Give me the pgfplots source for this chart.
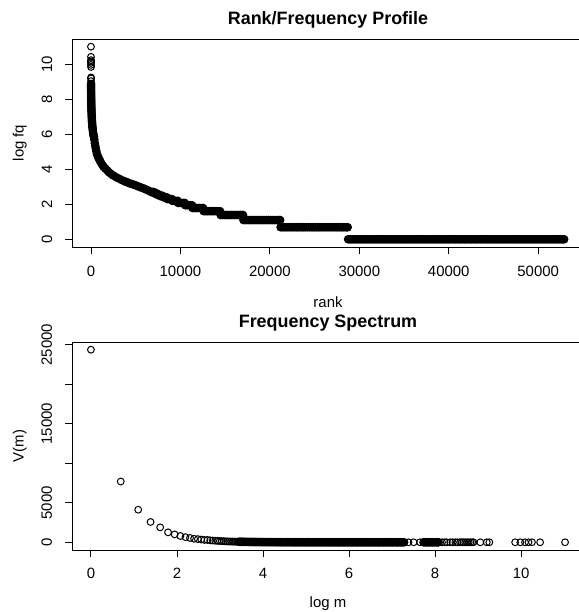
\documentclass[border=0pt]{standalone}
\usepackage{fontspec}
\setmainfont{Liberation Sans}
\usepackage{pgfplots}
\pgfplotsset{compat=1.18}

\pgfplotsset{
  rplot/.style={
    scale only axis, width=512bp, height=208bp, anchor=south west,
    axis line style={line width=0.9bp},
    tick align=outside, major tick length=7bp,
    xtick pos=bottom, ytick pos=left,
    tick style={line width=0.9bp, black},
    scaled ticks=false,
    every tick label/.append style={font=\fontsize{15}{15}\selectfont},
    yticklabel style={rotate=90, anchor=base},
    xticklabel style={anchor=base},
    /pgf/number format/1000 sep={},
    /pgf/number format/assume math mode=true,
    title style={font=\bfseries\fontsize{18}{18}\selectfont,
      at={(axis description cs:0.5,1)}, anchor=base, yshift=9bp},
    label style={font=\fontsize{15}{15}\selectfont},
  },
  every axis x label/.style={at={(axis description cs:0.5,0)}, anchor=base},
  every axis y label/.style={at={(axis description cs:-0.0945,0.5)}, rotate=90, anchor=base},
  dense/.style={only marks, mark=*, mark size=3.8bp,
    mark options={line width=1bp, draw=black, fill=black}},
  open/.style={only marks, mark=o, mark size=3.4bp,
    mark options={line width=1bp, draw=black}},
}

\begin{document}
\begin{tikzpicture}
\useasboundingbox (0,0) rectangle (579bp,612bp);

% rank / frequency profile
\begin{axis}[rplot, at={(72bp,365bp)},
    xmin=-2120, xmax=55120, ymin=-0.44, ymax=11.46,
    xtick={0,10000,...,50000}, ytick={0,2,...,10},
    xticklabel shift=22.7bp, yticklabel shift=13bp,
    title={Rank/Frequency Profile},
    xlabel={rank}, ylabel={log fq},
    xlabel style={yshift=-61bp}]
\addplot[dense] coordinates {
 (11,8.89) (12,8.80) (13,8.70) (14,8.60) (16,8.50) (18,8.40) (20,8.30) (22,8.20)
 (25,8.10) (28,8.00) (32,7.90) (36,7.80) (40,7.70) (45,7.60) (50,7.50) (56,7.40)
 (63,7.30) (70,7.20) (78,7.10) (87,7.00) (97,6.90) (108,6.80) (120,6.70) (135,6.60)
 (150,6.50) (170,6.40) (190,6.30) (215,6.20) (240,6.10) (270,6.00) (300,5.93) (340,5.86)
 (380,5.70) (430,5.50) (480,5.35) (540,5.20) (600,5.05) (660,4.90) (730,4.80) (810,4.70)
 (900,4.60) (1000,4.50) (1120,4.38) (1270,4.25) (1420,4.15) (1600,4.05) (1800,3.95) (2000,3.84)
 (2250,3.74) (2500,3.65) (2800,3.56) (3100,3.48) (3400,3.40) (3750,3.32) (3925,3.29)
 (4100,3.25) (4300,3.21) (4500,3.17) (4710,3.14) (4920,3.10) (5135,3.06) (5350,3.01)
 (5575,2.97) (5800,2.93) (6025,2.88) (6250,2.83) (6475,2.77)
 (6700,2.71) (6850,2.71) (7000,2.71)
 (7050,2.64) (7200,2.64) (7300,2.64)
 (7350,2.56) (7500,2.56) (7650,2.56)
 (7700,2.48) (7900,2.48) (8050,2.48)
 (8100,2.40) (8300,2.40) (8500,2.40)
 (8550,2.30) (8750,2.30) (8950,2.30) (9050,2.30)
 (9100,2.20) (9300,2.20) (9500,2.20) (9700,2.20)
 (9750,2.08) (9950,2.08) (10150,2.08) (10350,2.08) (10500,2.08)
 (10550,1.95) (10750,1.95) (10950,1.95) (11150,1.95) (11300,1.95)
 (11350,1.79) (11550,1.79) (11750,1.79) (11950,1.79) (12150,1.79) (12350,1.79) (12540,1.79)
 (12600,1.61) (12800,1.61) (13000,1.61) (13200,1.61) (13400,1.61) (13600,1.61)
 (13800,1.61) (14000,1.61) (14200,1.61) (14430,1.61)
 (14500,1.39) (14700,1.39) (14900,1.39) (15100,1.39) (15300,1.39) (15500,1.39)
 (15700,1.39) (15900,1.39) (16100,1.39) (16300,1.39) (16500,1.39) (16700,1.39)
 (16900,1.39) (17000,1.39)
 (17050,1.10) (17250,1.10) (17450,1.10) (17650,1.10) (17850,1.10) (18050,1.10)
 (18250,1.10) (18450,1.10) (18650,1.10) (18850,1.10) (19050,1.10) (19250,1.10)
 (19450,1.10) (19650,1.10) (19850,1.10) (20050,1.10) (20250,1.10) (20450,1.10)
 (20650,1.10) (20850,1.10) (21050,1.10) (21150,1.10)
 (21200,0.69) (21400,0.69) (21600,0.69) (21800,0.69) (22000,0.69) (22200,0.69)
 (22400,0.69) (22600,0.69) (22800,0.69) (23000,0.69) (23200,0.69) (23400,0.69)
 (23600,0.69) (23800,0.69) (24000,0.69) (24200,0.69) (24400,0.69) (24600,0.69)
 (24800,0.69) (25000,0.69) (25200,0.69) (25400,0.69) (25600,0.69) (25800,0.69)
 (26000,0.69) (26200,0.69) (26400,0.69) (26600,0.69) (26800,0.69) (27000,0.69)
 (27200,0.69) (27400,0.69) (27600,0.69) (27800,0.69) (28000,0.69) (28200,0.69)
 (28400,0.69) (28600,0.69) (28700,0.69)
 (28750,0) (28950,0) (29150,0) (29350,0) (29550,0) (29750,0) (29950,0) (30150,0)
 (30350,0) (30550,0) (30750,0) (30950,0) (31150,0) (31350,0) (31550,0) (31750,0)
 (31950,0) (32150,0) (32350,0) (32550,0) (32750,0) (32950,0) (33150,0) (33350,0)
 (33550,0) (33750,0) (33950,0) (34150,0) (34350,0) (34550,0) (34750,0) (34950,0)
 (35150,0) (35350,0) (35550,0) (35750,0) (35950,0) (36150,0) (36350,0) (36550,0)
 (36750,0) (36950,0) (37150,0) (37350,0) (37550,0) (37750,0) (37950,0) (38150,0)
 (38350,0) (38550,0) (38750,0) (38950,0) (39150,0) (39350,0) (39550,0) (39750,0)
 (39950,0) (40150,0) (40350,0) (40550,0) (40750,0) (40950,0) (41150,0) (41350,0)
 (41550,0) (41750,0) (41950,0) (42150,0) (42350,0) (42550,0) (42750,0) (42950,0)
 (43150,0) (43350,0) (43550,0) (43750,0) (43950,0) (44150,0) (44350,0) (44550,0)
 (44750,0) (44950,0) (45150,0) (45350,0) (45550,0) (45750,0) (45950,0) (46150,0)
 (46350,0) (46550,0) (46750,0) (46950,0) (47150,0) (47350,0) (47550,0) (47750,0)
 (47950,0) (48150,0) (48350,0) (48550,0) (48750,0) (48950,0) (49150,0) (49350,0)
 (49550,0) (49750,0) (49950,0) (50150,0) (50350,0) (50550,0) (50750,0) (50950,0)
 (51150,0) (51350,0) (51550,0) (51750,0) (51950,0) (52150,0) (52350,0) (52550,0)
 (52750,0) (52900,0)
};
\addplot[open] coordinates {
 (1,11.02) (2,10.44) (3,10.25) (4,10.17) (5,10.09) (6,9.98) (7,9.86)
 (8,9.26) (9,9.20) (10,9.05)
};
\end{axis}

% frequency spectrum
\begin{axis}[rplot, at={(72bp,62bp)},
    xmin=-0.44, xmax=11.46, ymin=-975, ymax=25345,
    xtick={0,2,...,10}, ytick={0,5000,...,25000},
    yticklabels={0,5000,,15000,,25000},
    xticklabel shift=21.3bp, yticklabel shift=13bp,
    title={Frequency Spectrum},
    xlabel={log m}, ylabel={V(m)},
    xlabel style={yshift=-57.6bp}]
\addplot[open] coordinates {
 (0,24370) (0.693,7690) (1.099,4120) (1.386,2570) (1.609,1890) (1.792,1260)
 (1.946,1000) (2.079,800) (2.197,650) (2.303,550) (2.398,450) (2.485,400)
 (2.565,350) (2.639,300) (2.708,300) (2.773,250) (2.833,220) (2.890,200)
 (2.944,180) (2.996,160) (3.045,150) (3.091,140) (3.135,120) (3.178,110)
 (3.219,100) (3.258,95) (3.296,90) (3.332,85) (3.367,80) (3.401,75)
 (7.38,1) (7.50,1) (7.65,1)
 (8.16,1) (8.22,1) (8.27,1) (8.35,1) (8.41,1) (8.47,1) (8.52,1) (8.58,1)
 (8.62,1) (8.66,1) (8.70,1) (8.74,1) (8.78,1) (8.82,1) (8.86,1) (8.89,1)
 (9.05,1) (9.20,1) (9.26,1) (9.86,1) (9.98,1) (10.09,1) (10.17,1) (10.25,1)
 (10.44,1) (11.02,1)
};
\addplot[dense] coordinates {
 (3.44,70) (3.47,68) (3.50,65) (3.53,61) (3.56,58) (3.59,55) (3.62,52) (3.65,49)
 (3.68,47) (3.71,44) (3.74,42) (3.77,40) (3.80,38) (3.83,36) (3.86,34) (3.89,32)
 (3.92,31) (3.95,29) (3.98,28) (4.01,26) (4.04,25) (4.07,23) (4.10,22) (4.13,21)
 (4.16,20) (4.19,19) (4.22,18) (4.25,17) (4.28,16) (4.31,15) (4.34,15) (4.37,14)
 (4.40,13) (4.43,12) (4.46,12) (4.49,11) (4.52,11) (4.55,10) (4.58,10) (4.61,9)
 (4.64,9) (4.67,8) (4.70,8) (4.73,7) (4.76,7) (4.79,7) (4.82,7) (4.85,6)
 (4.88,6) (4.91,6) (4.94,6) (4.97,5) (5.00,5) (5.03,5) (5.06,5) (5.09,4)
 (5.12,4) (5.15,4) (5.18,4) (5.21,4) (5.24,4) (5.27,3) (5.30,3) (5.33,3)
 (5.36,3) (5.39,3) (5.42,3) (5.45,3) (5.48,3) (5.51,3) (5.54,2) (5.57,2)
 (5.60,2) (5.63,2) (5.66,2) (5.69,2) (5.72,2) (5.75,2) (5.78,2) (5.81,2)
 (5.84,2) (5.87,2) (5.90,2) (5.93,2) (5.96,2) (5.99,2) (6.02,2) (6.05,2)
 (6.08,2) (6.11,2) (6.14,2) (6.17,2) (6.20,2) (6.23,1) (6.26,1) (6.29,1)
 (6.32,1) (6.35,1) (6.38,1) (6.41,1) (6.44,1) (6.47,1) (6.50,1) (6.53,1)
 (6.56,1) (6.59,1) (6.62,1) (6.65,1) (6.68,1) (6.71,1) (6.74,1) (6.77,1)
 (6.80,1) (6.83,1) (6.86,1) (6.89,1) (6.92,1) (6.95,1) (6.98,1) (7.01,1)
 (7.04,1) (7.07,1) (7.10,1) (7.13,1) (7.16,1) (7.19,1) (7.22,1) (7.25,1) (7.28,1)
 (7.73,1) (7.76,1) (7.79,1) (7.82,1) (7.85,1) (7.88,1) (7.91,1) (7.94,1)
 (7.97,1) (8.00,1) (8.03,1) (8.06,1) (8.08,1)
};
\end{axis}
\end{tikzpicture}
\end{document}
